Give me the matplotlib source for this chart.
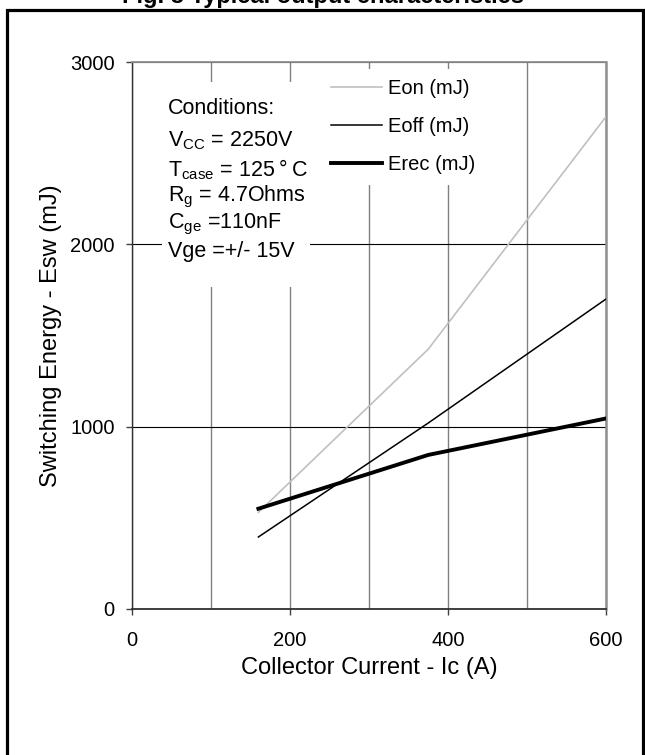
import matplotlib
matplotlib.use("Agg")
import matplotlib.pyplot as plt
from matplotlib.patches import Rectangle

plt.rcParams['font.family'] = ['Liberation Sans', 'DejaVu Sans']
plt.rcParams['mathtext.fontset'] = 'custom'
plt.rcParams['mathtext.rm'] = 'Liberation Sans'

# collector current (A) and switching energies (mJ)
ic = [160, 375, 600]
eon = [530, 1425, 2700]
eoff = [395, 1020, 1700]
erec = [550, 845, 1045]

conditions = [
    "Conditions:",
    r"V$_{\mathregular{CC}}$ = 2250V",
    "T$_{\\mathregular{case}}$ = 125\u2009°\u2009C",
    r"R$_{\mathregular{g}}$ = 4.7Ohms",
    r"C$_{\mathregular{ge}}$ =110nF",
    "Vge =+/- 15V",
]

fig = plt.figure(figsize=(6.45, 7.55), dpi=100)
ax = fig.add_axes([132 / 645, 1 - 609 / 755, 474 / 645, 547 / 755])

ax.plot(ic, eon, color='#c0c0c0', lw=1.2, label='Eon (mJ)', zorder=3)
ax.plot(ic, eoff, color='black', lw=1.1, label='Eoff (mJ)', zorder=3)
ax.plot(ic, erec, color='black', lw=2.8, label='Erec (mJ)', zorder=3)

ax.set_xlim(0, 600)
ax.set_ylim(0, 3000)
ax.set_xticks([0, 200, 400, 600])
ax.set_xticks([100, 300, 500], minor=True)
ax.set_yticks([0, 1000, 2000, 3000])
ax.tick_params(axis='x', which='major', direction='out', length=4, width=1,
               labelsize=14.5, pad=12, color='#404040')
ax.tick_params(axis='x', which='minor', length=0)
ax.tick_params(axis='y', direction='out', length=4.5, width=1,
               labelsize=14.5, pad=8, color='#404040')

ax.set_axisbelow(True)
ax.grid(axis='x', which='both', color='#808080', lw=1.0)
ax.grid(axis='y', which='major', color='black', lw=0.8)

ax.spines['top'].set_color('#909090')
ax.spines['top'].set_linewidth(1.3)
ax.spines['right'].set_color('#909090')
ax.spines['right'].set_linewidth(1.8)
ax.spines['left'].set_color('#303030')
ax.spines['left'].set_linewidth(1.0)
ax.spines['bottom'].set_color('#303030')
ax.spines['bottom'].set_linewidth(1.3)

ax.set_xlabel("Collector Current - Ic (A)", fontsize=17, labelpad=5)
ax.set_ylabel("Switching Energy - Esw (mJ)", fontsize=17, labelpad=6)

leg = ax.legend(loc='upper left', bbox_to_anchor=(0.399, 0.987),
                fontsize=14.5, frameon=True, fancybox=False,
                facecolor='white', edgecolor='none', framealpha=1,
                handlelength=2.5, handletextpad=0.3, labelspacing=0.95,
                borderpad=0.5, borderaxespad=0)
leg.set_zorder(4)

# white box behind the test conditions
ax.add_patch(Rectangle((0.063, 0.589), 0.313, 0.375, transform=ax.transAxes,
                       facecolor='white', edgecolor='none', zorder=2))
ys = [108, 141, 170, 197, 224, 252]
for txt, yp in zip(conditions, ys):
    ax.text(0.076, 1 - (yp - 62) / 547, txt, transform=ax.transAxes,
            fontsize=15.5, va='center', ha='left', zorder=5)

fig.text(0.5, 1 - 3 / 755, "Fig. 3 Typical output characteristics",
         ha='center', va='baseline', fontsize=17, fontweight='bold')
fig.patches.append(Rectangle((6.5 / 645, -0.02), 636.5 / 645, 1.02 - 10 / 755,
                             transform=fig.transFigure, fill=False,
                             edgecolor='black', lw=2.3))

fig.savefig('out.png', dpi=100)
